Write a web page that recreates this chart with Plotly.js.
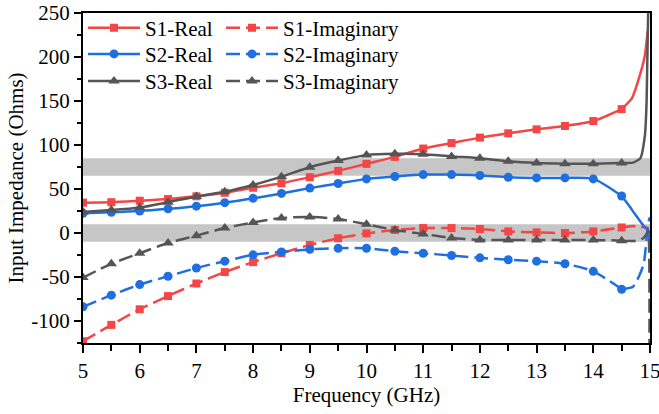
<!DOCTYPE html>
<html>
<head>
<meta charset="utf-8">
<script src="https://cdn.plot.ly/plotly-3.0.1.min.js"></script>
<style>html,body{margin:0;padding:0;background:#fff;}#chart{width:659px;height:414px;}</style>
</head>
<body>
<div id="chart"></div>
<script>
// Frequency points (GHz) carrying markers
const freq = [5,5.5,6,6.5,7,7.5,8,8.5,9,9.5,10,10.5,11,11.5,12,12.5,13,13.5,14,14.5];

// Series values (Ohms)
const s1Real = [34.5,35,36.7,38.6,41.7,45.7,51.4,56.5,63.4,70.6,78.6,86.5,96,102.2,108.4,113.3,117.8,121.6,127.2,140.8];
const s1Imag = [-123,-104.4,-86.7,-71.7,-57.4,-44.4,-33.1,-23,-13.5,-6,-0.4,3.4,5.6,5.6,4.5,1.8,0.7,0,1.8,6.3];
const s2Real = [22.5,23.5,25,27.5,30.5,34.5,39.4,45,51,56.3,61.5,64.2,66.4,66.4,65.3,63.4,62.6,62.6,61.5,42];
const s2Imag = [-83.8,-70.6,-58.6,-49.2,-39.8,-32,-24.8,-21.5,-18.6,-17.3,-17.3,-20.7,-23,-25.6,-28.2,-30.4,-32,-35,-43.6,-63.9];
const s3Real = [24,26,29,35,41.5,46.8,54.5,64,74.8,82.3,88.5,90,89.6,87,85,81.4,79.5,78.8,78.8,79.5];
const s3Imag = [-50.7,-35,-23,-11.3,-3,5.6,12,17,18.2,15.8,10,3.4,-1,-5.6,-7.9,-7.9,-7.9,-7.9,-7.9,-8.7];

// Curve tails near 15 GHz (no markers)
const s1RealTailF = [14.5,14.68,14.82,14.91,14.96];
const s1RealTail  = [140.8,153,179,202,230];
const s1ImagTailF = [14.5,14.7,14.83,14.95];
const s1ImagTail  = [6.3,8,7,6];
const s2RealTailF = [14.5,14.62,14.74,14.89,14.97,15];
const s2RealTail  = [42,32,21,8,2.6,-16];
const s2ImagTailF = [14.5,14.7,14.8,14.89,14.97,15];
const s2ImagTail  = [-63.9,-61,-50,-35,12,18];
const s3RealTailF = [14.5,14.7,14.83,14.91,14.94,14.97];
const s3RealTail  = [79.5,80,85,111,149,260];
const s3ImagTailF = [14.5,14.75,14.88,14.94,14.97,14.99];
const s3ImagTail  = [-8.7,-9,-6,-1,3,-150];

// Axis ticks
const xTickVals = [5,6,7,8,9,10,11,12,13,14,15];
const xTickText = ['5','6','7','8','9','10','11','12','13','14','15'];
const yTickVals = [-100,-50,0,50,100,150,200,250];
const yTickText = ['-100','-50','0','50','100','150','200','250'];

// Shaded target bands
const bandReal = [65, 85];
const bandImag = [-10, 10];

const names = ['S1-Real','S1-Imaginary','S2-Real','S2-Imaginary','S3-Real','S3-Imaginary'];

const RED = '#f44646', BLUE = '#1f6fe0', GRAY = '#555555';
const DASH = '14px,6px';
const FONT = 'Times New Roman, Liberation Serif, DejaVu Serif, serif';

function main(name, y, color, symbol, dash, legendId, msize) {
  return {x: freq, y: y, name: name, type: 'scatter', mode: 'lines+markers',
    line: {color: color, width: 2.5, dash: dash, shape: 'spline', smoothing: 0.7},
    marker: {color: color, symbol: symbol, size: msize},
    legend: legendId, cliponaxis: true};
}
function tail(xs, y, color, dash) {
  return {x: xs, y: y, type: 'scatter', mode: 'lines', showlegend: false, hoverinfo: 'skip',
    line: {color: color, width: 2.5, dash: dash, shape: 'spline', smoothing: 0.5}};
}

const data = [
  tail(s1RealTailF, s1RealTail, RED, 'solid'),
  tail(s1ImagTailF, s1ImagTail, RED, DASH),
  tail(s2RealTailF, s2RealTail, BLUE, 'solid'),
  tail(s2ImagTailF, s2ImagTail, BLUE, DASH),
  tail(s3RealTailF, s3RealTail, GRAY, 'solid'),
  tail(s3ImagTailF, s3ImagTail, GRAY, DASH),
  main(names[0], s1Real, RED, 'square', 'solid', 'legend', 8),
  main(names[1], s1Imag, RED, 'square', DASH, 'legend2', 8),
  main(names[2], s2Real, BLUE, 'circle', 'solid', 'legend3', 9),
  main(names[3], s2Imag, BLUE, 'circle', DASH, 'legend4', 9),
  main(names[4], s3Real, GRAY, 'triangle-up', 'solid', 'legend5', 10),
  main(names[5], s3Imag, GRAY, 'triangle-up', DASH, 'legend6', 10)
];

function leg(x, y) {
  return {x: x, y: y, xanchor: 'left', yanchor: 'middle', bgcolor: 'rgba(0,0,0,0)',
    borderwidth: 0, itemwidth: 52, font: {family: FONT, size: 21, color: '#000'}};
}
const colX = [0.0, 0.2434];
const rowY = [0.9546, 0.8749, 0.793];

const layout = {
  width: 659, height: 414,
  margin: {l: 83, r: 9, t: 13, b: 71, autoexpand: false},
  paper_bgcolor: '#fff', plot_bgcolor: '#fff',
  font: {family: FONT, size: 20, color: '#000'},
  showlegend: true,
  legend: leg(colX[0], rowY[0]),
  legend2: leg(colX[1], rowY[0]),
  legend3: leg(colX[0], rowY[1]),
  legend4: leg(colX[1], rowY[1]),
  legend5: leg(colX[0], rowY[2]),
  legend6: leg(colX[1], rowY[2]),
  xaxis: {
    range: [5, 15], tickmode: 'array', tickvals: xTickVals, ticktext: xTickText,
    showgrid: false, zeroline: false, ticklabeloverflow: 'allow', automargin: false,
    showline: true, linecolor: '#000', linewidth: 2, mirror: true,
    ticks: 'outside', ticklen: 8, tickwidth: 2, tickcolor: '#000',
    minor: {dtick: 0.5, tick0: 5, ticks: 'outside', ticklen: 6, tickwidth: 2, tickcolor: '#000', showgrid: false},
    tickfont: {family: FONT, size: 21, color: '#000'},
    title: {text: 'Frequency (GHz)', font: {family: FONT, size: 21, color: '#000'}, standoff: 4}
  },
  yaxis: {
    range: [-125, 250], tickmode: 'array', tickvals: yTickVals, ticktext: yTickText,
    showgrid: false, zeroline: false, automargin: false, ticklabeloverflow: 'allow',
    showline: true, linecolor: '#000', linewidth: 2, mirror: true,
    ticks: 'outside', ticklen: 7, tickwidth: 2, tickcolor: '#000',
    minor: {dtick: 25, tick0: 0, ticks: 'outside', ticklen: 4, tickwidth: 2, tickcolor: '#000', showgrid: false},
    tickfont: {family: FONT, size: 21, color: '#000'},
    title: {text: 'Input Impedance (Ohms)', font: {family: FONT, size: 21, color: '#000'}, standoff: 2}
  },
  shapes: [
    {type: 'rect', xref: 'x', yref: 'y', x0: 5, x1: 15, y0: bandReal[0], y1: bandReal[1],
     fillcolor: '#c6c6c6', line: {width: 0}, layer: 'below'},
    {type: 'rect', xref: 'x', yref: 'y', x0: 5, x1: 15, y0: bandImag[0], y1: bandImag[1],
     fillcolor: '#c6c6c6', line: {width: 0}, layer: 'below'}
  ]
};

Plotly.newPlot('chart', data, layout, {displayModeBar: false, staticPlot: true});
</script>
</body>
</html>
